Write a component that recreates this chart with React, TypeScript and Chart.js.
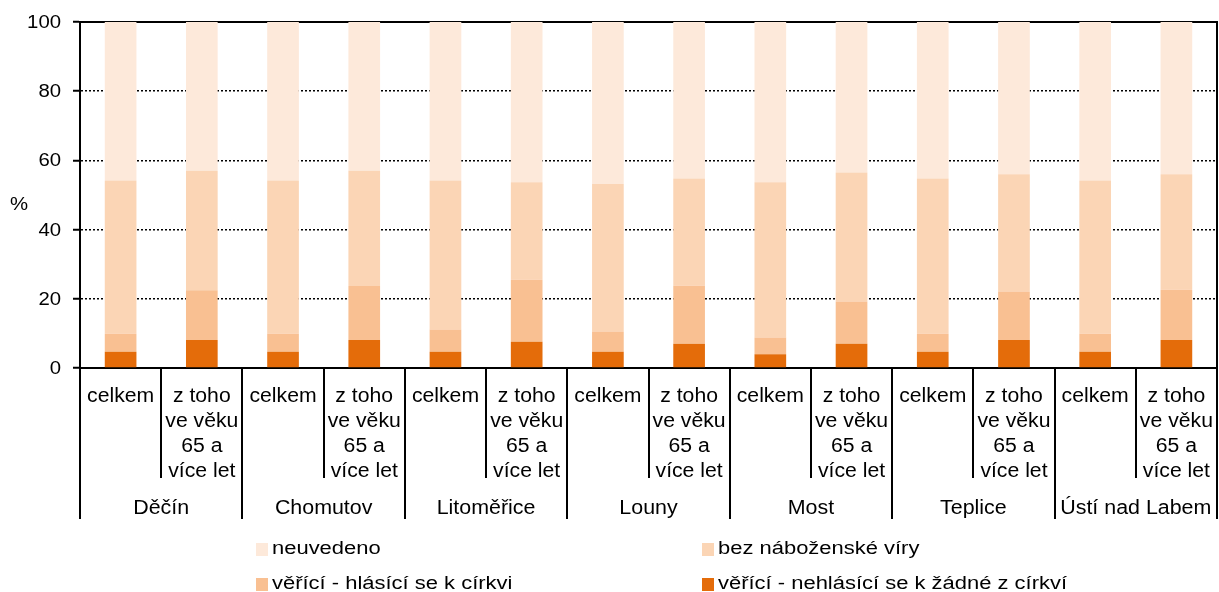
import React, { useEffect, useRef } from "react";
import { Chart, registerables } from "chart.js";

Chart.register(...registerables);

const districts = ["Děčín", "Chomutov", "Litoměřice", "Louny", "Most", "Teplice", "Ústí nad Labem"];
const subLabels: string[][] = [["celkem"], ["z toho", "ve věku", "65 a", "více let"]];
const yTicks = [0, 20, 40, 60, 80, 100];

const seriesNames = ["věřící - nehlásící se k žádné z církví", "věřící - hlásící se k církvi", "bez náboženské víry", "neuvedeno"];
const nehlasici = [4.7, 8.1, 4.7, 8.1, 4.7, 7.6, 4.7, 7.0, 4.0, 7.0, 4.7, 8.1, 4.7, 8.1];
const hlasici = [5.2, 14.4, 5.2, 15.6, 6.4, 17.9, 5.8, 16.8, 4.8, 12.2, 5.2, 14.0, 5.2, 14.5];
const bezViry = [44.3, 34.5, 44.3, 33.3, 43.1, 28.2, 42.7, 31.0, 44.9, 37.3, 44.9, 33.9, 44.3, 33.4];
const neuvedeno = [45.8, 43.0, 45.8, 43.0, 45.8, 46.3, 46.8, 45.2, 46.3, 43.5, 45.2, 44.0, 45.8, 44.0];
const colors = ["#E46C0A", "#F9C092", "#FBD5B5", "#FDE9DA"];

const FONT = "'Liberation Sans', Arial, sans-serif";

const categoryLabels: string[] = [];
districts.forEach((d) => subLabels.forEach((s) => categoryLabels.push(d + " " + s.join(" "))));

function drawText(ctx: CanvasRenderingContext2D, text: string, x: number, y: number, align: CanvasTextAlign, sx: number) {
  ctx.save();
  ctx.translate(x, y);
  ctx.scale(sx, 1);
  ctx.textAlign = align;
  ctx.textBaseline = "middle";
  ctx.fillText(text, 0, 0);
  ctx.restore();
}

const customPlugin = {
  id: "custom",
  beforeDatasetsDraw(chart: any) {
    const { ctx, chartArea } = chart;
    ctx.save();
    ctx.strokeStyle = "#000";
    ctx.lineWidth = 2;
    ctx.beginPath();
    ctx.moveTo(chartArea.left, chartArea.top);
    ctx.lineTo(chartArea.right, chartArea.top);
    ctx.lineTo(chartArea.right, chartArea.bottom);
    ctx.stroke();
    ctx.restore();
  },
  afterDraw(chart: any) {
    const { ctx, chartArea } = chart;
    const x = chart.scales.x;
    const y = chart.scales.y;
    const n = categoryLabels.length;
    const w = (chartArea.right - chartArea.left) / n;
    ctx.save();
    ctx.fillStyle = "#000";
    ctx.strokeStyle = "#000";
    // y tick labels and title
    ctx.font = `18px ${FONT}`;
    yTicks.forEach((v) => drawText(ctx, String(v), 61, y.getPixelForValue(v) + 1, "right", 1.13));
    drawText(ctx, "%", 19, 205, "center", 1.13);
    // separators
    ctx.lineWidth = 2;
    for (let i = 0; i <= n; i++) {
      const px = Math.round(chartArea.left + i * w);
      const outer = i % 2 === 0;
      ctx.beginPath();
      ctx.moveTo(px, chartArea.bottom);
      ctx.lineTo(px, outer ? 519 : 478);
      ctx.stroke();
    }
    // sub labels
    ctx.font = `20px ${FONT}`;
    for (let i = 0; i < n; i++) {
      const cx = x.getPixelForValue(i);
      const lines = subLabels[i % 2];
      lines.forEach((l, k) => drawText(ctx, l, cx, 396 + k * 25, "center", 1.06));
    }
    // district labels
    districts.forEach((d, j) => {
      const cx = chartArea.left + (2 * j + 1) * w;
      drawText(ctx, d, cx, 508, "center", 1.07);
    });
    // legend
    const items = [
      { name: seriesNames[3], color: colors[3], x: 256, y: 549 },
      { name: seriesNames[2], color: colors[2], x: 702, y: 549 },
      { name: seriesNames[1], color: colors[1], x: 256, y: 584 },
      { name: seriesNames[0], color: colors[0], x: 702, y: 584 },
    ];
    ctx.font = `18px ${FONT}`;
    items.forEach((it) => {
      ctx.fillStyle = it.color;
      ctx.fillRect(it.x, it.y - 6, 12, 13);
      ctx.fillStyle = "#000";
      drawText(ctx, it.name, it.x + 16, it.y, "left", 1.22);
    });
    ctx.restore();
  },
};

export default function App() {
  const ref = useRef<HTMLCanvasElement | null>(null);
  useEffect(() => {
    document.body.style.margin = "0";
    const canvas = ref.current!;
    const data = [nehlasici, hlasici, bezViry, neuvedeno];
    const chart = new Chart(canvas, {
      type: "bar",
      data: {
        labels: categoryLabels,
        datasets: data.map((d, i) => ({
          label: seriesNames[i],
          data: d,
          backgroundColor: colors[i],
          borderWidth: 0,
          barPercentage: 0.39,
          categoryPercentage: 1,
        })),
      },
      options: {
        responsive: false,
        animation: false,
        layout: { padding: { top: 22, right: 2, left: 0, bottom: 0 } },
        plugins: { legend: { display: false }, tooltip: { enabled: false } },
        scales: {
          x: {
            stacked: true,
            grid: { display: false },
            ticks: { display: false },
            border: { display: true, color: "#000", width: 2 },
            afterFit: (s: any) => {
              s.height = 224;
            },
          },
          y: {
            stacked: true,
            min: 0,
            max: 100,
            afterBuildTicks: (s: any) => {
              s.ticks = yTicks.map((v) => ({ value: v }));
            },
            ticks: { display: false },
            grid: {
              color: "#000",
              lineWidth: 1.5,
              tickLength: 7,
              tickColor: "#000",
              tickWidth: 2,
              tickBorderDash: [],
            },
            border: { display: true, color: "#000", width: 2, dash: [2, 2] },
            afterFit: (s: any) => {
              s.width = 80;
            },
          },
        },
      },
      plugins: [customPlugin],
    });
    return () => chart.destroy();
  }, []);
  return (
    <div style={{ position: "fixed", left: 0, top: 0, width: 1219, height: 592, background: "#fff" }}>
      <canvas ref={ref} width={1219} height={592} style={{ width: 1219, height: 592 }} />
    </div>
  );
}
